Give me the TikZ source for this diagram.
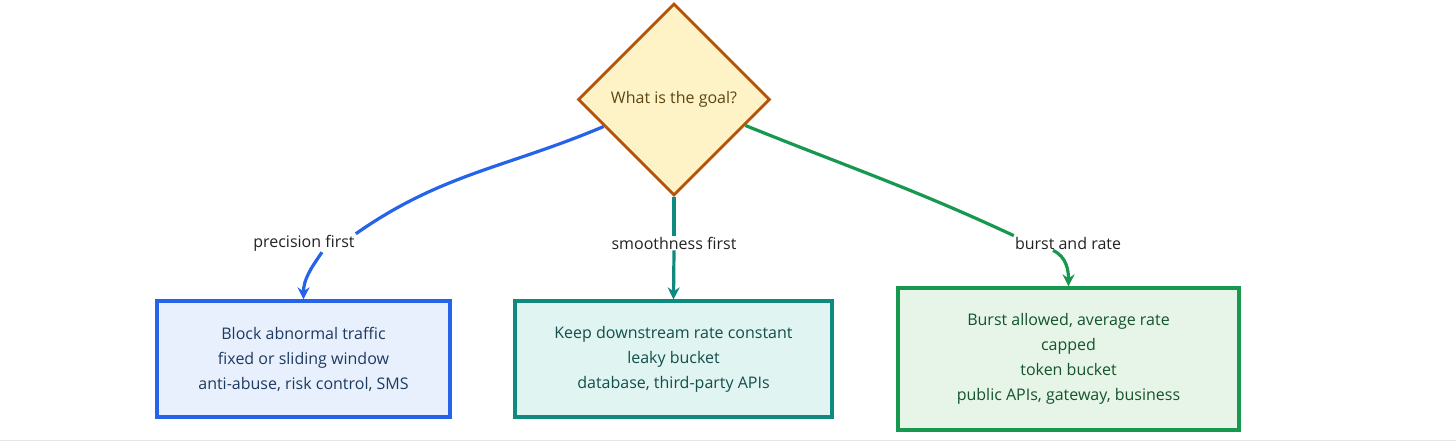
\documentclass[tikz,border=0pt]{standalone}
\usepackage{fontspec}
\setmainfont{Open Sans}
\usepackage{tikz}
\usetikzlibrary{shapes.geometric, arrows.meta, positioning}
\definecolor{goalFill}{HTML}{FEF3C7}
\definecolor{goalDraw}{HTML}{B45309}
\definecolor{goalText}{HTML}{5C4613}
\definecolor{precDraw}{HTML}{2563EB}
\definecolor{precFill}{HTML}{E8F0FE}
\definecolor{precText}{HTML}{1E3A5F}
\definecolor{smoothDraw}{HTML}{0F8A7F}
\definecolor{smoothFill}{HTML}{E0F4F1}
\definecolor{smoothText}{HTML}{134E4A}
\definecolor{burstDraw}{HTML}{16994F}
\definecolor{burstFill}{HTML}{E6F5E8}
\definecolor{burstText}{HTML}{14532D}
\definecolor{labelText}{HTML}{222222}
\tikzstyle{decision} = [diamond, aspect=1, minimum size=192pt, inner sep=0pt, draw=goalDraw, fill=goalFill, line width=2.8pt, text=goalText]
\tikzstyle{choice} = [rectangle, line width=3.2pt, align=center, text centered, inner sep=0pt]
\tikzstyle{edgeLabel} = [inner sep=1pt, text=labelText]
\tikzstyle{link} = [line width=3.2pt]
\tikzstyle{arrow} = [line width=3.2pt, -{Stealth[length=12pt,width=12pt]}]

\begin{document}
\begin{tikzpicture}[x=1pt, y=-1pt, font=\fontsize{16pt}{25pt}\selectfont]
    \useasboundingbox (0,0) rectangle (1456,447);
    \node (goal) [decision] at (674,99.5) {What is the goal?};
    % three answers
    \node (prec) [choice, draw=precDraw, fill=precFill, text=precText, minimum width=293pt, minimum height=116pt] at (303.5,359) {Block abnormal traffic\\fixed or sliding window\\anti-abuse, risk control, SMS};
    \node (smooth) [choice, draw=smoothDraw, fill=smoothFill, text=smoothText, minimum width=317pt, minimum height=116pt] at (673.5,359) {Keep downstream rate constant\\leaky bucket\\database, third-party APIs};
    \node (burst) [choice, draw=burstDraw, fill=burstFill, text=burstText, minimum width=341pt, minimum height=142pt] at (1068.5,359) {Burst allowed, average rate\\capped\\token bucket\\public APIs, gateway, business};
    % edge labels
    \node (precLbl) [edgeLabel] at (304,243) {precision first};
    \node (smoothLbl) [edgeLabel] at (674,243) {smoothness first};
    \node (burstLbl) [edgeLabel] at (1068,243) {burst and rate};
    \draw [link, precDraw] (goal.201) to [out = 203, in = 35] (precLbl.north east);
    \draw [arrow, precDraw] ([xshift=18pt]precLbl.south) to [out = -125, in = 90] (prec.north);
    \draw [link, smoothDraw] (goal.south) -- (smoothLbl.north);
    \draw [arrow, smoothDraw] (smoothLbl.south) -- (smooth.north);
    \draw [link, burstDraw] (goal.-20) to [out = -22, in = 155] (burstLbl.north west);
    \draw [arrow, burstDraw] ([xshift=-15pt]burstLbl.south) to [out = -25, in = 90] (burst.north);
    \draw [line width=1pt, black!10] (0,440) -- (1456,440);
\end{tikzpicture}
\end{document}
